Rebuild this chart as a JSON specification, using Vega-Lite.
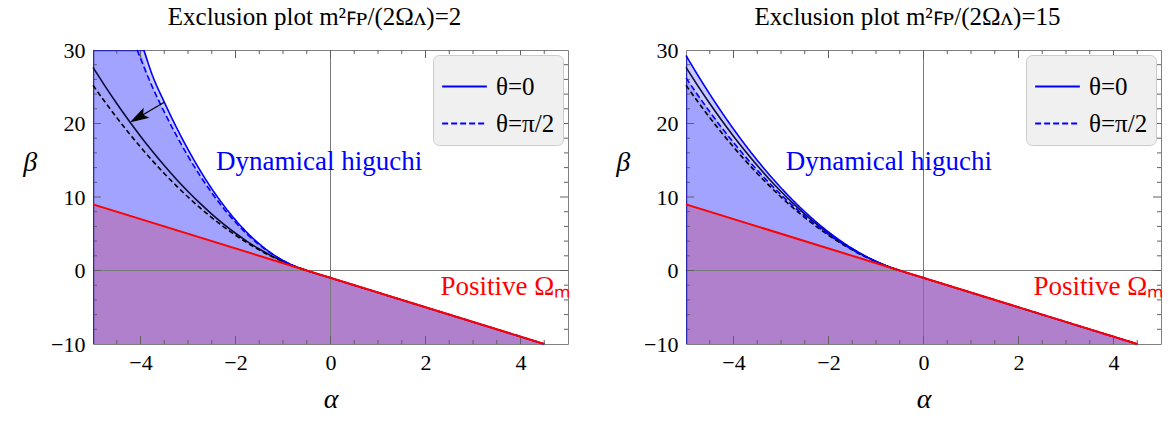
{
  "$schema": "https://vega.github.io/schema/vega-lite/v6.json",
  "padding": {"left": 22, "top": 4, "right": 0, "bottom": 0},
  "config": {
    "font": "Liberation Serif",
    "view": {"stroke": "#808080", "strokeWidth": 1},
    "axis": {"domain": false, "grid": false, "labelFont": "Liberation Serif", "labelFontSize": 22, "labelColor": "black", "titleFont": "Liberation Serif", "titleFontStyle": "italic", "titleFontWeight": "normal", "titleFontSize": 28, "titleColor": "black"},
    "title": {"font": "Liberation Serif", "fontSize": 25, "fontWeight": "normal", "color": "black", "offset": 9, "frame": "bounds", "anchor": "middle", "dx": 18},
    "legend": {"labelFont": "Liberation Serif", "labelFontSize": 25, "labelColor": "black", "symbolType": "stroke", "symbolSize": 2000, "symbolStrokeWidth": 1.8, "symbolStrokeColor": "#0000ff", "fillColor": "#f0f0f0", "strokeColor": "#cccccc", "cornerRadius": 6, "padding": 8, "rowPadding": 0, "labelOffset": 8, "offset": 5},
    "text": {"font": "Liberation Serif"}
  },
  "datasets": {
    "curves": [
      {"p": "A", "fam": "cap", "th": "θ=0", "a": -5, "b": 30},
      {"p": "A", "fam": "blue", "th": "θ=0", "a": -3.93, "b": 30},
      {"p": "A", "fam": "blue", "th": "θ=0", "a": -3.75, "b": 26.57},
      {"p": "A", "fam": "blue", "th": "θ=0", "a": -3.5, "b": 22.92},
      {"p": "A", "fam": "blue", "th": "θ=0", "a": -3.25, "b": 19.56},
      {"p": "A", "fam": "blue", "th": "θ=0", "a": -3, "b": 16.48},
      {"p": "A", "fam": "blue", "th": "θ=0", "a": -2.75, "b": 13.67},
      {"p": "A", "fam": "blue", "th": "θ=0", "a": -2.5, "b": 11.13},
      {"p": "A", "fam": "blue", "th": "θ=0", "a": -2.25, "b": 8.87},
      {"p": "A", "fam": "blue", "th": "θ=0", "a": -2, "b": 6.87},
      {"p": "A", "fam": "blue", "th": "θ=0", "a": -1.75, "b": 5.12},
      {"p": "A", "fam": "blue", "th": "θ=0", "a": -1.5, "b": 3.63},
      {"p": "A", "fam": "blue", "th": "θ=0", "a": -1.25, "b": 2.38},
      {"p": "A", "fam": "blue", "th": "θ=0", "a": -1, "b": 1.37},
      {"p": "A", "fam": "blue", "th": "θ=0", "a": -0.75, "b": 0.585},
      {"p": "A", "fam": "blue", "th": "θ=0", "a": -0.5, "b": 0},
      {"p": "A", "fam": "blue", "th": "θ=0", "a": 0, "b": -1},
      {"p": "A", "fam": "blue", "th": "θ=0", "a": 2, "b": -5},
      {"p": "A", "fam": "blue", "th": "θ=0", "a": 4.5, "b": -10},
      {"p": "A", "fam": "cap", "th": "θ=π/2", "a": -5, "b": 30},
      {"p": "A", "fam": "blue", "th": "θ=π/2", "a": -4.07, "b": 30},
      {"p": "A", "fam": "blue", "th": "θ=π/2", "a": -3.75, "b": 24.97},
      {"p": "A", "fam": "blue", "th": "θ=π/2", "a": -3.5, "b": 21.57},
      {"p": "A", "fam": "blue", "th": "θ=π/2", "a": -3.25, "b": 18.44},
      {"p": "A", "fam": "blue", "th": "θ=π/2", "a": -3, "b": 15.56},
      {"p": "A", "fam": "blue", "th": "θ=π/2", "a": -2.75, "b": 12.94},
      {"p": "A", "fam": "blue", "th": "θ=π/2", "a": -2.5, "b": 10.57},
      {"p": "A", "fam": "blue", "th": "θ=π/2", "a": -2.25, "b": 8.44},
      {"p": "A", "fam": "blue", "th": "θ=π/2", "a": -2, "b": 6.56},
      {"p": "A", "fam": "blue", "th": "θ=π/2", "a": -1.75, "b": 4.91},
      {"p": "A", "fam": "blue", "th": "θ=π/2", "a": -1.5, "b": 3.5},
      {"p": "A", "fam": "blue", "th": "θ=π/2", "a": -1.25, "b": 2.31},
      {"p": "A", "fam": "blue", "th": "θ=π/2", "a": -1, "b": 1.34},
      {"p": "A", "fam": "blue", "th": "θ=π/2", "a": -0.75, "b": 0.58},
      {"p": "A", "fam": "blue", "th": "θ=π/2", "a": -0.5, "b": 0},
      {"p": "A", "fam": "blue", "th": "θ=π/2", "a": 0, "b": -1},
      {"p": "A", "fam": "blue", "th": "θ=π/2", "a": 2, "b": -5},
      {"p": "A", "fam": "blue", "th": "θ=π/2", "a": 4.5, "b": -10},
      {"p": "B", "fam": "blue", "th": "θ=0", "a": -5, "b": 29.25},
      {"p": "B", "fam": "blue", "th": "θ=0", "a": -4.75, "b": 26.56},
      {"p": "B", "fam": "blue", "th": "θ=0", "a": -4.5, "b": 24},
      {"p": "B", "fam": "blue", "th": "θ=0", "a": -4.25, "b": 21.56},
      {"p": "B", "fam": "blue", "th": "θ=0", "a": -4, "b": 19.25},
      {"p": "B", "fam": "blue", "th": "θ=0", "a": -3.75, "b": 17.06},
      {"p": "B", "fam": "blue", "th": "θ=0", "a": -3.5, "b": 15},
      {"p": "B", "fam": "blue", "th": "θ=0", "a": -3.25, "b": 13.06},
      {"p": "B", "fam": "blue", "th": "θ=0", "a": -3, "b": 11.25},
      {"p": "B", "fam": "blue", "th": "θ=0", "a": -2.75, "b": 9.56},
      {"p": "B", "fam": "blue", "th": "θ=0", "a": -2.5, "b": 8},
      {"p": "B", "fam": "blue", "th": "θ=0", "a": -2.25, "b": 6.56},
      {"p": "B", "fam": "blue", "th": "θ=0", "a": -2, "b": 5.25},
      {"p": "B", "fam": "blue", "th": "θ=0", "a": -1.75, "b": 4.06},
      {"p": "B", "fam": "blue", "th": "θ=0", "a": -1.5, "b": 3},
      {"p": "B", "fam": "blue", "th": "θ=0", "a": -1.25, "b": 2.06},
      {"p": "B", "fam": "blue", "th": "θ=0", "a": -1, "b": 1.25},
      {"p": "B", "fam": "blue", "th": "θ=0", "a": -0.75, "b": 0.56},
      {"p": "B", "fam": "blue", "th": "θ=0", "a": -0.5, "b": 0},
      {"p": "B", "fam": "blue", "th": "θ=0", "a": 0, "b": -1},
      {"p": "B", "fam": "blue", "th": "θ=0", "a": 2, "b": -5},
      {"p": "B", "fam": "blue", "th": "θ=0", "a": 4.5, "b": -10},
      {"p": "B", "fam": "blue", "th": "θ=π/2", "a": -5, "b": 26.21},
      {"p": "B", "fam": "blue", "th": "θ=π/2", "a": -4.75, "b": 23.85},
      {"p": "B", "fam": "blue", "th": "θ=π/2", "a": -4.5, "b": 21.6},
      {"p": "B", "fam": "blue", "th": "θ=π/2", "a": -4.25, "b": 19.45},
      {"p": "B", "fam": "blue", "th": "θ=π/2", "a": -4, "b": 17.41},
      {"p": "B", "fam": "blue", "th": "θ=π/2", "a": -3.75, "b": 15.48},
      {"p": "B", "fam": "blue", "th": "θ=π/2", "a": -3.5, "b": 13.65},
      {"p": "B", "fam": "blue", "th": "θ=π/2", "a": -3.25, "b": 11.93},
      {"p": "B", "fam": "blue", "th": "θ=π/2", "a": -3, "b": 10.31},
      {"p": "B", "fam": "blue", "th": "θ=π/2", "a": -2.75, "b": 8.8},
      {"p": "B", "fam": "blue", "th": "θ=π/2", "a": -2.5, "b": 7.4},
      {"p": "B", "fam": "blue", "th": "θ=π/2", "a": -2.25, "b": 6.1},
      {"p": "B", "fam": "blue", "th": "θ=π/2", "a": -2, "b": 4.91},
      {"p": "B", "fam": "blue", "th": "θ=π/2", "a": -1.75, "b": 3.83},
      {"p": "B", "fam": "blue", "th": "θ=π/2", "a": -1.5, "b": 2.85},
      {"p": "B", "fam": "blue", "th": "θ=π/2", "a": -1.25, "b": 1.98},
      {"p": "B", "fam": "blue", "th": "θ=π/2", "a": -1, "b": 1.21},
      {"p": "B", "fam": "blue", "th": "θ=π/2", "a": -0.75, "b": 0.55},
      {"p": "B", "fam": "blue", "th": "θ=π/2", "a": -0.5, "b": 0},
      {"p": "B", "fam": "blue", "th": "θ=π/2", "a": 0, "b": -1},
      {"p": "B", "fam": "blue", "th": "θ=π/2", "a": 2, "b": -5},
      {"p": "B", "fam": "blue", "th": "θ=π/2", "a": 4.5, "b": -10}
    ],
    "ref": [
      {"th": "θ=0", "a": -5, "b": 27.63}, {"th": "θ=0", "a": -4.75, "b": 25.12}, {"th": "θ=0", "a": -4.5, "b": 22.72},
      {"th": "θ=0", "a": -4.25, "b": 20.44}, {"th": "θ=0", "a": -4, "b": 18.27}, {"th": "θ=0", "a": -3.75, "b": 16.22},
      {"th": "θ=0", "a": -3.5, "b": 14.28}, {"th": "θ=0", "a": -3.25, "b": 12.46}, {"th": "θ=0", "a": -3, "b": 10.75},
      {"th": "θ=0", "a": -2.75, "b": 9.16}, {"th": "θ=0", "a": -2.5, "b": 7.68}, {"th": "θ=0", "a": -2.25, "b": 6.32},
      {"th": "θ=0", "a": -2, "b": 5.07}, {"th": "θ=0", "a": -1.75, "b": 3.94}, {"th": "θ=0", "a": -1.5, "b": 2.92},
      {"th": "θ=0", "a": -1.25, "b": 2.02}, {"th": "θ=0", "a": -1, "b": 1.23}, {"th": "θ=0", "a": -0.75, "b": 0.56},
      {"th": "θ=0", "a": -0.5, "b": 0},
      {"th": "θ=π/2", "a": -5, "b": 25.2}, {"th": "θ=π/2", "a": -4.75, "b": 22.95}, {"th": "θ=π/2", "a": -4.5, "b": 20.8},
      {"th": "θ=π/2", "a": -4.25, "b": 18.75}, {"th": "θ=π/2", "a": -4, "b": 16.8}, {"th": "θ=π/2", "a": -3.75, "b": 14.95},
      {"th": "θ=π/2", "a": -3.5, "b": 13.2}, {"th": "θ=π/2", "a": -3.25, "b": 11.55}, {"th": "θ=π/2", "a": -3, "b": 10},
      {"th": "θ=π/2", "a": -2.75, "b": 8.55}, {"th": "θ=π/2", "a": -2.5, "b": 7.2}, {"th": "θ=π/2", "a": -2.25, "b": 5.95},
      {"th": "θ=π/2", "a": -2, "b": 4.8}, {"th": "θ=π/2", "a": -1.75, "b": 3.75}, {"th": "θ=π/2", "a": -1.5, "b": 2.8},
      {"th": "θ=π/2", "a": -1.25, "b": 1.95}, {"th": "θ=π/2", "a": -1, "b": 1.2}, {"th": "θ=π/2", "a": -0.75, "b": 0.55},
      {"th": "θ=π/2", "a": -0.5, "b": 0}
    ],
    "red": [{"a": -5, "b": 9}, {"a": 4.5, "b": -10}],
    "zero": [{"z": 0}],
    "edge": [{"p": "A", "a": -5, "b": -10, "b2": 30}, {"p": "B", "a": -5, "b": -10, "b2": 29.25}],
    "capline": [{"a": -5, "a2": -3.93, "b": 30}],
    "xt": [
      {"v": -4.5, "major": false}, {"v": -4, "major": true}, {"v": -3.5, "major": false}, {"v": -3, "major": false},
      {"v": -2.5, "major": false}, {"v": -2, "major": true}, {"v": -1.5, "major": false}, {"v": -1, "major": false},
      {"v": -0.5, "major": false}, {"v": 0, "major": true}, {"v": 0.5, "major": false}, {"v": 1, "major": false},
      {"v": 1.5, "major": false}, {"v": 2, "major": true}, {"v": 2.5, "major": false}, {"v": 3, "major": false},
      {"v": 3.5, "major": false}, {"v": 4, "major": true}, {"v": 4.5, "major": false}
    ],
    "yt": [
      {"v": -8, "major": false}, {"v": -6, "major": false}, {"v": -4, "major": false}, {"v": -2, "major": false},
      {"v": 0, "major": true}, {"v": 2, "major": false}, {"v": 4, "major": false}, {"v": 6, "major": false},
      {"v": 8, "major": false}, {"v": 10, "major": true}, {"v": 12, "major": false}, {"v": 14, "major": false},
      {"v": 16, "major": false}, {"v": 18, "major": false}, {"v": 20, "major": true}, {"v": 22, "major": false},
      {"v": 24, "major": false}, {"v": 26, "major": false}, {"v": 28, "major": false}
    ],
    "arrow": [{"a": -3.5, "b": 22.9, "a2": -4.1, "b2": 20.6}],
    "head": [{"a": -4.05, "b": 20.8}],
    "txt": [
      {"p": "A", "k": "dyn", "t": "Dynamical higuchi", "a": -2.41, "b": 14.8},
      {"p": "B", "k": "dyn", "t": "Dynamical higuchi", "a": -2.9, "b": 14.8},
      {"p": "A", "k": "pos", "t": "Positive Ωₘ", "a": 5.05, "b": -2.2},
      {"p": "B", "k": "pos", "t": "Positive Ωₘ", "a": 5.05, "b": -2.2}
    ]
  },
  "resolve": {"scale": {"strokeDash": "independent"}, "legend": {"strokeDash": "independent"}},
  "spacing": 44,
  "hconcat": [
    {
      "width": 475, "height": 294,
      "title": {"text": "Exclusion plot m²ꜰᴘ/(2Ωᴧ)=2", "font": "Liberation Serif"},
      "layer": [
        {"data": {"name": "curves"}, "transform": [{"filter": "datum.p === 'A' && datum.th === 'θ=0'"}],
         "mark": {"type": "area", "color": "#c8c8ff", "opacity": 1, "interpolate": "monotone"},
         "encoding": {
           "x": {"field": "a", "type": "quantitative", "scale": {"domain": [-5, 5], "nice": false, "zero": false},
                 "axis": {"title": "α", "values": [-4, -2, 0, 2, 4], "format": "d", "ticks": false, "labelFont": "Liberation Serif", "labelFontSize": 22, "labelPadding": 8, "labelFlush": false, "titleFont": "Liberation Serif", "titlePadding": 12}},
           "y": {"field": "b", "type": "quantitative", "scale": {"domain": [-10, 30], "nice": false, "zero": false},
                 "axis": {"title": "β", "values": [-10, 0, 10, 20, 30], "format": "d", "ticks": false, "labelFont": "Liberation Serif", "labelFontSize": 22, "labelPadding": 8, "labelFlush": false, "titleFont": "Liberation Serif", "titleAngle": 0, "titleAlign": "right", "titleBaseline": "middle", "titleY": 112, "titlePadding": 14}},
           "y2": {"datum": -10}}},
        {"data": {"name": "curves"}, "transform": [{"filter": "datum.p === 'A' && datum.th === 'θ=π/2'"}],
         "mark": {"type": "area", "color": "#a2a2ff", "opacity": 1, "interpolate": "monotone"},
         "encoding": {"x": {"field": "a", "type": "quantitative"}, "y": {"field": "b", "type": "quantitative"}, "y2": {"datum": -10}}},
        {"data": {"name": "red"}, "mark": {"type": "area", "color": "#b080cc", "opacity": 1},
         "encoding": {"x": {"field": "a", "type": "quantitative"}, "y": {"field": "b", "type": "quantitative"}, "y2": {"datum": -10}}},
        {"data": {"name": "zero"}, "mark": {"type": "rule", "color": "#7a7a7a", "strokeWidth": 1},
         "encoding": {"x": {"field": "z", "type": "quantitative"}}},
        {"data": {"name": "zero"}, "mark": {"type": "rule", "color": "#7a7a7a", "strokeWidth": 1},
         "encoding": {"y": {"field": "z", "type": "quantitative"}}},
        {"data": {"name": "xt"}, "mark": {"type": "tick", "orient": "vertical", "color": "#606060", "thickness": 1, "clip": true, "opacity": 1},
         "encoding": {"x": {"field": "v", "type": "quantitative"}, "y": {"datum": -10}, "size": {"condition": {"test": "datum.major", "value": 16}, "value": 8}}},
        {"data": {"name": "xt"}, "mark": {"type": "tick", "orient": "vertical", "color": "#606060", "thickness": 1, "clip": true, "opacity": 1},
         "encoding": {"x": {"field": "v", "type": "quantitative"}, "y": {"datum": 30}, "size": {"condition": {"test": "datum.major", "value": 16}, "value": 8}}},
        {"data": {"name": "yt"}, "mark": {"type": "tick", "orient": "horizontal", "color": "#606060", "thickness": 1, "clip": true, "opacity": 1},
         "encoding": {"y": {"field": "v", "type": "quantitative"}, "x": {"datum": -5}, "size": {"condition": {"test": "datum.major", "value": 16}, "value": 8}}},
        {"data": {"name": "yt"}, "mark": {"type": "tick", "orient": "horizontal", "color": "#606060", "thickness": 1, "clip": true, "opacity": 1},
         "encoding": {"y": {"field": "v", "type": "quantitative"}, "x": {"datum": 5}, "size": {"condition": {"test": "datum.major", "value": 16}, "value": 8}}},
        {"data": {"name": "edge"}, "transform": [{"filter": "datum.p === 'A'"}], "mark": {"type": "rule", "color": "#2a2aa8", "strokeWidth": 2.5, "clip": true},
         "encoding": {"x": {"field": "a", "type": "quantitative"}, "y": {"field": "b", "type": "quantitative"}, "y2": {"field": "b2"}}},
        {"data": {"name": "capline"}, "mark": {"type": "rule", "color": "#2a2aa8", "strokeWidth": 2.5, "clip": true},
         "encoding": {"x": {"field": "a", "type": "quantitative"}, "x2": {"field": "a2"}, "y": {"field": "b", "type": "quantitative"}}},
        {"data": {"name": "ref"}, "transform": [{"filter": "datum.th === 'θ=0'"}],
         "mark": {"type": "line", "color": "#0b0b3c", "strokeWidth": 1.6, "interpolate": "monotone"},
         "encoding": {"x": {"field": "a", "type": "quantitative"}, "y": {"field": "b", "type": "quantitative"}}},
        {"data": {"name": "ref"}, "transform": [{"filter": "datum.th === 'θ=π/2'"}],
         "mark": {"type": "line", "color": "#000000", "strokeWidth": 1.6, "strokeDash": [5, 3], "interpolate": "monotone"},
         "encoding": {"x": {"field": "a", "type": "quantitative"}, "y": {"field": "b", "type": "quantitative"}}},
        {"data": {"name": "curves"}, "transform": [{"filter": "datum.p === 'A' && datum.fam === 'blue'"}],
         "mark": {"type": "line", "color": "#0000ff", "strokeWidth": 1.6, "interpolate": "monotone"},
         "encoding": {"x": {"field": "a", "type": "quantitative"}, "y": {"field": "b", "type": "quantitative"},
           "strokeDash": {"field": "th", "type": "nominal", "scale": {"domain": ["θ=0", "θ=π/2"], "range": [[1, 0], [6, 3]]}, "legend": {"title": null, "orient": "top-right", "labelFont": "Liberation Serif"}}}},
        {"data": {"name": "red"}, "mark": {"type": "line", "color": "#ff0000", "strokeWidth": 2},
         "encoding": {"x": {"field": "a", "type": "quantitative"}, "y": {"field": "b", "type": "quantitative"}}},
        {"data": {"name": "arrow"}, "mark": {"type": "rule", "color": "#000000", "strokeWidth": 1.2},
         "encoding": {"x": {"field": "a", "type": "quantitative"}, "y": {"field": "b", "type": "quantitative"}, "x2": {"field": "a2"}, "y2": {"field": "b2"}}},
        {"data": {"name": "head"}, "mark": {"type": "point", "shape": "M0,-1L-0.6,1L0,0.6L0.6,1Z", "filled": true, "color": "#000000", "opacity": 1, "size": 380, "angle": 240},
         "encoding": {"x": {"field": "a", "type": "quantitative"}, "y": {"field": "b", "type": "quantitative"}}},
        {"data": {"name": "txt"}, "transform": [{"filter": "datum.p === 'A' && datum.k === 'dyn'"}],
         "mark": {"type": "text", "color": "#0000ff", "font": "Liberation Serif", "fontSize": 27, "align": "left", "baseline": "middle"},
         "encoding": {"x": {"field": "a", "type": "quantitative"}, "y": {"field": "b", "type": "quantitative"}, "text": {"field": "t"}}},
        {"data": {"name": "txt"}, "transform": [{"filter": "datum.p === 'A' && datum.k === 'pos'"}],
         "mark": {"type": "text", "color": "#ff0000", "font": "Liberation Serif", "fontSize": 27, "align": "right", "baseline": "middle"},
         "encoding": {"x": {"field": "a", "type": "quantitative"}, "y": {"field": "b", "type": "quantitative"}, "text": {"field": "t"}}}
      ]
    },
    {
      "width": 475, "height": 294,
      "title": {"text": "Exclusion plot m²ꜰᴘ/(2Ωᴧ)=15", "font": "Liberation Serif"},
      "layer": [
        {"data": {"name": "curves"}, "transform": [{"filter": "datum.p === 'B' && datum.th === 'θ=0'"}],
         "mark": {"type": "area", "color": "#c8c8ff", "opacity": 1, "interpolate": "monotone"},
         "encoding": {
           "x": {"field": "a", "type": "quantitative", "scale": {"domain": [-5, 5], "nice": false, "zero": false},
                 "axis": {"title": "α", "values": [-4, -2, 0, 2, 4], "format": "d", "ticks": false, "labelFont": "Liberation Serif", "labelFontSize": 22, "labelPadding": 8, "labelFlush": false, "titleFont": "Liberation Serif", "titlePadding": 12}},
           "y": {"field": "b", "type": "quantitative", "scale": {"domain": [-10, 30], "nice": false, "zero": false},
                 "axis": {"title": "β", "values": [-10, 0, 10, 20, 30], "format": "d", "ticks": false, "labelFont": "Liberation Serif", "labelFontSize": 22, "labelPadding": 8, "labelFlush": false, "titleFont": "Liberation Serif", "titleAngle": 0, "titleAlign": "right", "titleBaseline": "middle", "titleY": 112, "titlePadding": 14}},
           "y2": {"datum": -10}}},
        {"data": {"name": "curves"}, "transform": [{"filter": "datum.p === 'B' && datum.th === 'θ=π/2'"}],
         "mark": {"type": "area", "color": "#a2a2ff", "opacity": 1, "interpolate": "monotone"},
         "encoding": {"x": {"field": "a", "type": "quantitative"}, "y": {"field": "b", "type": "quantitative"}, "y2": {"datum": -10}}},
        {"data": {"name": "red"}, "mark": {"type": "area", "color": "#b080cc", "opacity": 1},
         "encoding": {"x": {"field": "a", "type": "quantitative"}, "y": {"field": "b", "type": "quantitative"}, "y2": {"datum": -10}}},
        {"data": {"name": "zero"}, "mark": {"type": "rule", "color": "#7a7a7a", "strokeWidth": 1},
         "encoding": {"x": {"field": "z", "type": "quantitative"}}},
        {"data": {"name": "zero"}, "mark": {"type": "rule", "color": "#7a7a7a", "strokeWidth": 1},
         "encoding": {"y": {"field": "z", "type": "quantitative"}}},
        {"data": {"name": "xt"}, "mark": {"type": "tick", "orient": "vertical", "color": "#606060", "thickness": 1, "clip": true, "opacity": 1},
         "encoding": {"x": {"field": "v", "type": "quantitative"}, "y": {"datum": -10}, "size": {"condition": {"test": "datum.major", "value": 16}, "value": 8}}},
        {"data": {"name": "xt"}, "mark": {"type": "tick", "orient": "vertical", "color": "#606060", "thickness": 1, "clip": true, "opacity": 1},
         "encoding": {"x": {"field": "v", "type": "quantitative"}, "y": {"datum": 30}, "size": {"condition": {"test": "datum.major", "value": 16}, "value": 8}}},
        {"data": {"name": "yt"}, "mark": {"type": "tick", "orient": "horizontal", "color": "#606060", "thickness": 1, "clip": true, "opacity": 1},
         "encoding": {"y": {"field": "v", "type": "quantitative"}, "x": {"datum": -5}, "size": {"condition": {"test": "datum.major", "value": 16}, "value": 8}}},
        {"data": {"name": "yt"}, "mark": {"type": "tick", "orient": "horizontal", "color": "#606060", "thickness": 1, "clip": true, "opacity": 1},
         "encoding": {"y": {"field": "v", "type": "quantitative"}, "x": {"datum": 5}, "size": {"condition": {"test": "datum.major", "value": 16}, "value": 8}}},
        {"data": {"name": "edge"}, "transform": [{"filter": "datum.p === 'B'"}], "mark": {"type": "rule", "color": "#2a2aa8", "strokeWidth": 2.5, "clip": true},
         "encoding": {"x": {"field": "a", "type": "quantitative"}, "y": {"field": "b", "type": "quantitative"}, "y2": {"field": "b2"}}},
        {"data": {"name": "ref"}, "transform": [{"filter": "datum.th === 'θ=0'"}],
         "mark": {"type": "line", "color": "#0b0b3c", "strokeWidth": 1.6, "interpolate": "monotone"},
         "encoding": {"x": {"field": "a", "type": "quantitative"}, "y": {"field": "b", "type": "quantitative"}}},
        {"data": {"name": "ref"}, "transform": [{"filter": "datum.th === 'θ=π/2'"}],
         "mark": {"type": "line", "color": "#000000", "strokeWidth": 1.6, "strokeDash": [5, 3], "interpolate": "monotone"},
         "encoding": {"x": {"field": "a", "type": "quantitative"}, "y": {"field": "b", "type": "quantitative"}}},
        {"data": {"name": "curves"}, "transform": [{"filter": "datum.p === 'B' && datum.fam === 'blue'"}],
         "mark": {"type": "line", "color": "#0000ff", "strokeWidth": 1.6, "interpolate": "monotone"},
         "encoding": {"x": {"field": "a", "type": "quantitative"}, "y": {"field": "b", "type": "quantitative"},
           "strokeDash": {"field": "th", "type": "nominal", "scale": {"domain": ["θ=0", "θ=π/2"], "range": [[1, 0], [6, 3]]}, "legend": {"title": null, "orient": "top-right", "labelFont": "Liberation Serif"}}}},
        {"data": {"name": "red"}, "mark": {"type": "line", "color": "#ff0000", "strokeWidth": 2},
         "encoding": {"x": {"field": "a", "type": "quantitative"}, "y": {"field": "b", "type": "quantitative"}}},
        {"data": {"name": "txt"}, "transform": [{"filter": "datum.p === 'B' && datum.k === 'dyn'"}],
         "mark": {"type": "text", "color": "#0000ff", "font": "Liberation Serif", "fontSize": 27, "align": "left", "baseline": "middle"},
         "encoding": {"x": {"field": "a", "type": "quantitative"}, "y": {"field": "b", "type": "quantitative"}, "text": {"field": "t"}}},
        {"data": {"name": "txt"}, "transform": [{"filter": "datum.p === 'B' && datum.k === 'pos'"}],
         "mark": {"type": "text", "color": "#ff0000", "font": "Liberation Serif", "fontSize": 27, "align": "right", "baseline": "middle"},
         "encoding": {"x": {"field": "a", "type": "quantitative"}, "y": {"field": "b", "type": "quantitative"}, "text": {"field": "t"}}}
      ]
    }
  ]
}
